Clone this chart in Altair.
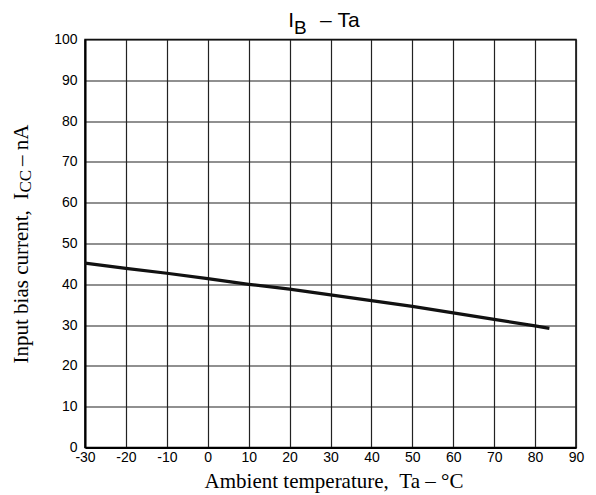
import altair as alt
import pandas as pd

# Data
temps = [-30, -20, -10, 0, 10, 20, 30, 40, 50, 60, 70, 80, 83.5]
ib_na = [45.2, 43.9, 42.7, 41.4, 40.0, 38.8, 37.4, 36.0, 34.6, 33.0, 31.4, 29.8, 29.2]
x_ticks = list(range(-30, 91, 10))
y_ticks = list(range(0, 101, 10))

W, H = 491, 408
SERIF = "Liberation Serif"
SANS = "Liberation Sans"
NB = "\u00a0"

df = pd.DataFrame({"t": temps, "ib": ib_na})

x_enc = alt.X("t:Q", scale=alt.Scale(domain=[-30, 90], nice=False, zero=False),
              axis=alt.Axis(values=x_ticks,
                            title=f"Ambient temperature,{NB}{NB}Ta{NB}–{NB}°C",
                            titleFont=SERIF, titleFontSize=21, titleFontWeight="normal",
                            titleColor="black", titleBaseline="alphabetic", titleY=39.5,
                            titleX=W / 2 + 3,
                            labelExpr="'' + datum.value",
                            labelFont=SANS, labelFontSize=14, labelColor="black",
                            labelPadding=3, ticks=False, grid=True, gridColor="#222",
                            gridWidth=1.2, domainColor="black", domainWidth=2,
                            labelFlush=False, labelOverlap=False))
y_enc = alt.Y("ib:Q", scale=alt.Scale(domain=[0, 100], nice=False),
              axis=alt.Axis(values=y_ticks, title=None,
                            labelFont=SANS, labelFontSize=14, labelColor="black",
                            labelPadding=8, ticks=False, grid=True, gridColor="#222",
                            gridWidth=1.2, domainColor="black", domainWidth=2,
                            labelFlush=False, labelOverlap=False))

line = alt.Chart(df).mark_line(color="#111", strokeWidth=3.2).encode(x=x_enc, y=y_enc)

# Title pieces: I with subscript B, then "– Ta"
title_I = alt.Chart(pd.DataFrame({"s": ["I"]})).mark_text(
    font=SANS, fontSize=21, align="right", baseline="alphabetic", color="black"
).encode(text="s:N", x=alt.value(209), y=alt.value(-12.5))
title_B = alt.Chart(pd.DataFrame({"s": ["B"]})).mark_text(
    font=SANS, fontSize=19, align="left", baseline="alphabetic", color="black"
).encode(text="s:N", x=alt.value(209), y=alt.value(-6))
title_rest = alt.Chart(pd.DataFrame({"s": [f"–{NB}Ta"]})).mark_text(
    font=SANS, fontSize=21, align="left", baseline="alphabetic", color="black"
).encode(text="s:N", x=alt.value(235), y=alt.value(-12.5))

# Y axis title pieces: "Input bias current,  I" + subscript "CC" + " – nA"
YT_SIZE = 21
SUB_SIZE = 17
start_y = 324
w1 = (7804 + 333) / 1000 * YT_SIZE   # Times metrics width of "Input bias current,  I"
w_cc = 2 * 667 / 1000 * SUB_SIZE + 4
yt1 = alt.Chart(pd.DataFrame({"s": [f"Input bias current,{NB}{NB}I"]})).mark_text(
    font=SERIF, fontSize=YT_SIZE, angle=270, align="left", baseline="alphabetic", color="black"
).encode(text="s:N", x=alt.value(-57.5), y=alt.value(start_y))
yt2 = alt.Chart(pd.DataFrame({"s": ["CC"]})).mark_text(
    font=SERIF, fontSize=SUB_SIZE, angle=270, align="left", baseline="alphabetic", color="black"
).encode(text="s:N", x=alt.value(-54.0), y=alt.value(start_y - w1))
yt3 = alt.Chart(pd.DataFrame({"s": [f"{NB}–{NB}nA"]})).mark_text(
    font=SERIF, fontSize=YT_SIZE, angle=270, align="left", baseline="alphabetic", color="black"
).encode(text="s:N", x=alt.value(-57.5), y=alt.value(start_y - w1 - w_cc))

chart = alt.layer(line, title_I, title_B, title_rest, yt1, yt2, yt3).properties(
    width=W, height=H,
    autosize=alt.AutoSizeParams(type="none"),
    padding={"left": 77, "top": 31.5, "right": 12, "bottom": 47},
    background="white",
).configure_view(stroke="black", strokeWidth=1.5)

chart.save("out.html", embed_options={"renderer": "svg", "actions": False})
